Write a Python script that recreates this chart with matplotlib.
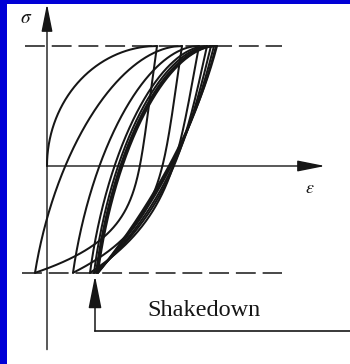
import numpy as np
import matplotlib
matplotlib.use("Agg")
import matplotlib.pyplot as plt

plt.rcParams["mathtext.fontset"] = "stix"

# Stress-controlled cycling between two stress limits: ratcheting loops
# that settle into a stable (shaken-down) loop.
SIGMA_MAX = 1.0
SIGMA_MIN = -0.89

# strain at each upper / lower reversal point
upper_tips = [1.10, 1.35, 1.52, 1.60, 1.64, 1.67, 1.69, 1.70]
lower_tips = [-0.12, 0.26, 0.43, 0.47, 0.49, 0.50, 0.51, 0.51]

# loading branches: elastic fraction a, elliptic knee
load_a = [0.0, 0.25, 0.26, 0.26, 0.25, 0.25, 0.25, 0.25]
# unloading branches: elastic fraction a, power-law exponent n
unload_a = [0.25, 0.30, 0.38, 0.44, 0.48, 0.50, 0.50, 0.50]
unload_n = [7, 5.5, 4.5, 3.5, 3, 2.5, 2.2, 2]

BLUE = "#0000d6"
INK = "#161616"

W, H = 350, 364
fig = plt.figure(figsize=(W / 100, H / 100), dpi=100, facecolor=BLUE)
# white panel inside a thin blue frame (left and top)
left_px, top_px = 7, 4
ax = fig.add_axes([left_px / W, 0, (W - left_px) / W, (H - top_px) / H])
ax.set_facecolor("white")
ax.set_xticks([])
ax.set_yticks([])
for sp in ax.spines.values():
    sp.set_visible(False)

# axis origin at pixel (47, 166); 100 px per strain unit, 120 px per stress unit
ox, oy = 47, 166
ax.set_xlim((left_px - ox) / 100, (W - ox) / 100)
ax.set_ylim((oy - H) / 120, (oy - top_px) / 120)

t = np.linspace(0, 1, 400)


def load_branch(e0, s0, e1, s1, a):
    g = a * t + (1 - a) * (1 - np.sqrt(1 - t ** 2))
    return e0 + (e1 - e0) * g, s0 + (s1 - s0) * t


def unload_branch(e0, s0, e1, s1, a, n):
    g = a * t + (1 - a) * t ** n
    return e0 + (e1 - e0) * g, s0 + (s1 - s0) * t


line_kw = dict(color=INK, lw=1.45, solid_capstyle="round")

start_e, start_s = 0.0, 0.0
for i in range(len(upper_tips)):
    e, s = load_branch(start_e, start_s, upper_tips[i], SIGMA_MAX, load_a[i])
    ax.plot(e, s, **line_kw)
    e, s = unload_branch(upper_tips[i], SIGMA_MAX, lower_tips[i], SIGMA_MIN,
                         unload_a[i], unload_n[i])
    ax.plot(e, s, **line_kw)
    start_e, start_s = lower_tips[i], SIGMA_MIN

# stress limits
for lvl, x0 in [(SIGMA_MAX, -0.22), (SIGMA_MIN, -0.25)]:
    ln, = ax.plot([x0, 2.35], [lvl, lvl], color=INK, lw=1.1)
    ln.set_dashes((13, 4.5))

# coordinate axes
arrow = dict(arrowstyle="-|>,head_length=0.85,head_width=0.17", color=INK,
             lw=1.0, shrinkA=0, shrinkB=0, mutation_scale=20)
ax.annotate("", xy=(0, 1.35), xytext=(0, -1.53), arrowprops=arrow)
ax.annotate("", xy=(2.78, 0), xytext=(0, 0), arrowprops=arrow)
ax.text(-0.21, 1.24, r"$\sigma$", fontsize=14, ha="center", va="center", color=INK)
ax.text(2.63, -0.18, r"$\epsilon$", fontsize=13, ha="center", va="center", color=INK)

# shakedown pointer
ax.plot([0.48, 3.1], [-1.375, -1.375], color=INK, lw=1.2)
ax.annotate("", xy=(0.48, -0.915), xytext=(0.48, -1.375),
            arrowprops=dict(arrowstyle="-|>,head_length=1.0,head_width=0.2", color=INK,
                            lw=1.1, shrinkA=0, shrinkB=0, mutation_scale=20))
ax.text(1.57, -1.2, "Shakedown", fontsize=17.5, family="Liberation Serif",
        ha="center", va="center", color=INK)

fig.savefig("out.png", dpi=100, facecolor=BLUE)
